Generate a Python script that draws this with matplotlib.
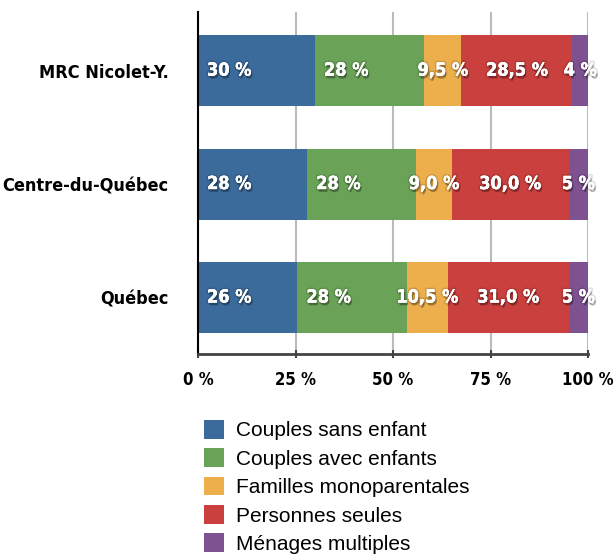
import matplotlib.pyplot as plt
import matplotlib.patheffects as pe
import numpy as np

# categories bottom -> top
regions = ["Québec", "Centre-du-Québec", "MRC Nicolet-Y."]
series = ["Couples sans enfant", "Couples avec enfants", "Familles monoparentales",
          "Personnes seules", "Ménages multiples"]
colors = ["#3b6b9b", "#6aa358", "#ecaf4c", "#c9403e", "#7e5190"]

values = np.array([
    [25.5, 28.0, 10.5, 31.0, 5.0],   # Québec
    [28.0, 28.0, 9.0, 30.0, 5.0],    # Centre-du-Québec
    [30.0, 28.0, 9.5, 28.5, 4.0],    # MRC Nicolet-Y.
])
labels = [
    ["26 %", "28 %", "10,5 %", "31,0 %", "5 %"],
    ["28 %", "28 %", "9,0 %", "30,0 %", "5 %"],
    ["30 %", "28 %", "9,5 %", "28,5 %", "4 %"],
]
ticks = [0, 25, 50, 75, 100]
tick_labels = ["0 %", "25 %", "50 %", "75 %", "100 %"]

cond = dict(family="DejaVu Sans", stretch="condensed", weight="bold")
plt.rcParams['font.family'] = ["Liberation Sans", "DejaVu Sans"]

fig = plt.figure(figsize=(6.14, 5.54), dpi=100)
ax = fig.add_axes([0.3225, 0.361, 0.6352, 0.617])

y = np.arange(len(regions))
bar_h = 0.625
left = np.zeros(len(regions))
# soft dark shadow under the white labels
shadow = [pe.withSimplePatchShadow(offset=(1, -2), shadow_rgbFace="black", alpha=0.3),
          pe.withStroke(linewidth=2.5, foreground=(0, 0, 0, 0.12)), pe.Normal()]
for j, name in enumerate(series):
    ax.barh(y, values[:, j], left=left, height=bar_h, color=colors[j], label=name, zorder=2)
    for i in range(len(regions)):
        if j < 2:
            x, ha = left[i] + 2.3, "left"
        else:
            x, ha = left[i] + values[i, j] / 2, "center"
        ax.text(x, y[i], labels[i][j], ha=ha, va="center", color="white",
                fontsize=13, zorder=5, path_effects=shadow, **cond)
    left += values[:, j]

ax.set_xlim(0, 100)
ax.set_ylim(-0.498, 2.515)
ax.set_xticks(ticks)
ax.set_xticklabels(tick_labels, fontsize=12, **cond)
ax.set_yticks(y)
ax.set_yticklabels(regions, fontsize=13, **cond)
ax.tick_params(axis="y", length=0, pad=21)
ax.tick_params(axis="x", direction="inout", length=6, width=1.5, color="#444444", pad=9)
ax.xaxis.grid(True, color="#bbbbbb", linewidth=1.5, zorder=0)
ax.set_axisbelow(True)
for s in ["top", "right"]:
    ax.spines[s].set_visible(False)
ax.spines["left"].set_color("black")
ax.spines["left"].set_linewidth(1.5)
ax.spines["bottom"].set_color("#444444")
ax.spines["bottom"].set_linewidth(2)

leg = fig.legend(loc="upper left", bbox_to_anchor=(0.318, 0.257), frameon=False,
                 fontsize=15, handlelength=1.0, handleheight=1.0, handletextpad=0.55,
                 labelspacing=0.38, borderaxespad=0)

plt.savefig("out.png", dpi=100)
